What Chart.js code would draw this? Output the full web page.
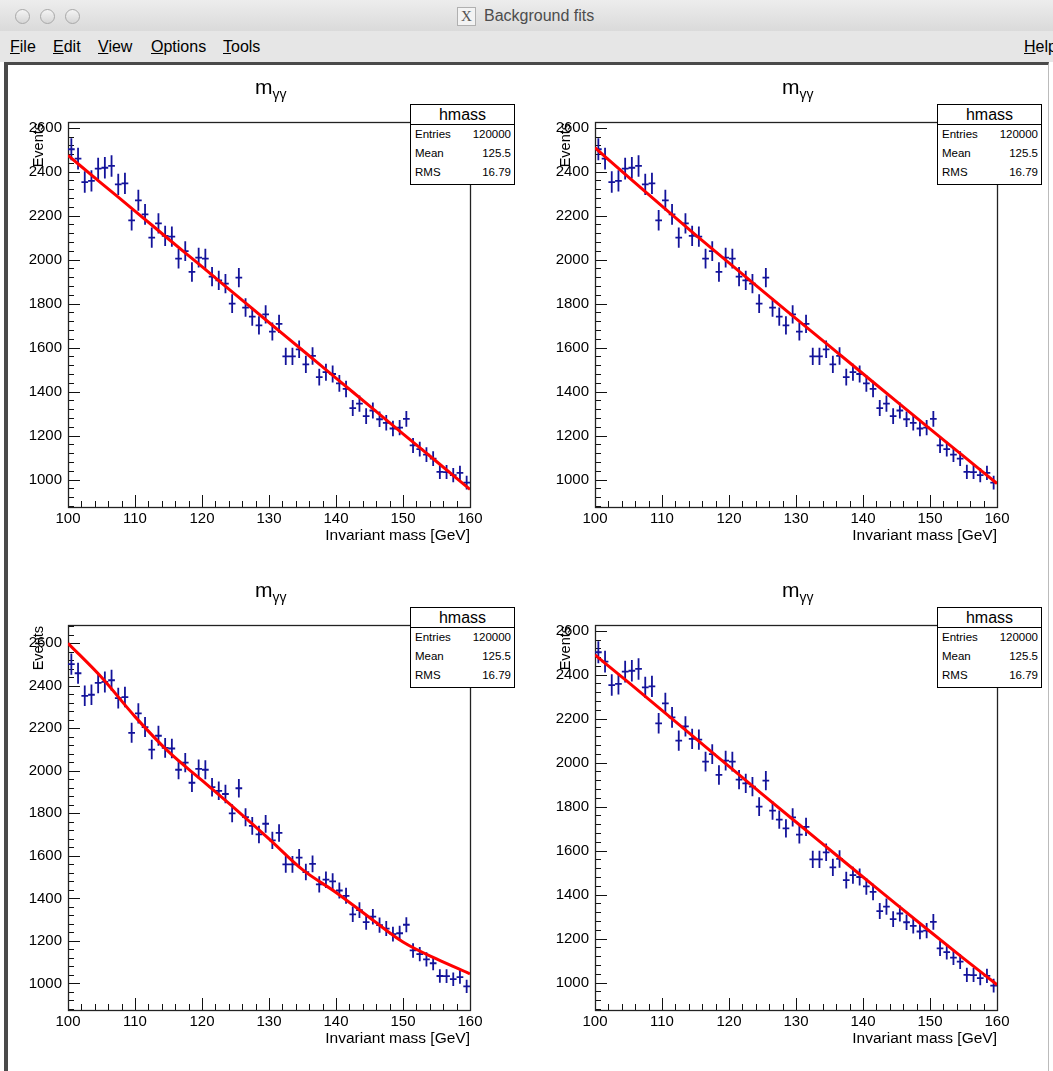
<!DOCTYPE html>
<html><head><meta charset="utf-8">
<script src="https://cdn.jsdelivr.net/npm/chart.js@4.4.1/dist/chart.umd.min.js"></script>
<style>
html,body{margin:0;padding:0;background:#fff;}
body{width:1053px;height:1071px;position:relative;overflow:hidden;font-family:"Liberation Sans",Arial,sans-serif;}
#titlebar{position:absolute;left:0;top:0;width:1053px;height:31px;background:linear-gradient(#ededed,#dadada);}
#menubar{position:absolute;left:0;top:31px;width:1053px;height:31px;background:#e6e6e6;}
.light{position:absolute;top:9px;width:13px;height:13px;border-radius:50%;border:1px solid #a8a8a8;background:linear-gradient(#f4f4f4,#d6d6d6);}
#wtitle{position:absolute;left:484px;top:7px;font-size:16px;color:#4d4d4d;}
#xicon{position:absolute;left:457px;top:7px;width:17px;height:17px;border:1px solid #b0b0b0;background:#f3f3f3;font-family:"Liberation Serif",serif;font-size:15px;line-height:17px;text-align:center;color:#555;}
.menu{position:absolute;top:38px;font-size:16px;color:#000;}
.menu u{text-decoration:underline;}
#canvasframe{position:absolute;left:4px;top:62px;width:1040px;height:1009px;border-left:4px solid #4a4a4a;border-top:3px solid #4a4a4a;border-right:1px solid #bbb;background:#fff;}
canvas{position:absolute;}
.ptitle{position:absolute;font-size:21px;line-height:21px;white-space:nowrap;color:#000;}
.ptitle sub{font-size:14px;vertical-align:-5px;}
.stats{position:absolute;width:103px;height:79px;border:1px solid #000;background:#fff;}
.stats .hd{height:19px;border-bottom:1px solid #000;text-align:center;font-size:16px;line-height:19px;}
.stats .row{position:relative;height:19px;font-size:11.5px;line-height:19px;}
.stats .row .l{position:absolute;left:4px;}
.stats .row .r{position:absolute;right:3px;}
.ytitle{position:absolute;width:60px;text-align:right;font-size:14.5px;line-height:16px;white-space:nowrap;transform-origin:0 0;transform:rotate(-90deg);}
.xtitle{position:absolute;width:220px;text-align:right;font-size:15.5px;line-height:16px;white-space:nowrap;}
</style>
</head><body>
<div id="titlebar">
  <div class="light" style="left:15px"></div>
  <div class="light" style="left:40px"></div>
  <div class="light" style="left:65px"></div>
  <div id="xicon">X</div>
  <div id="wtitle">Background fits</div>
</div>
<div id="menubar"></div>
<div class="menu" style="left:10px"><u>F</u>ile</div>
<div class="menu" style="left:53px"><u>E</u>dit</div>
<div class="menu" style="left:98px"><u>V</u>iew</div>
<div class="menu" style="left:151px"><u>O</u>ptions</div>
<div class="menu" style="left:223px"><u>T</u>ools</div>
<div class="menu" style="left:1024px"><u>H</u>elp</div>
<div id="canvasframe"></div>
<div id="pads"></div>
<script>
// ---------------- data ----------------
const binCenters = [100.5,101.5,102.5,103.5,104.5,105.5,106.5,107.5,108.5,109.5,
  110.5,111.5,112.5,113.5,114.5,115.5,116.5,117.5,118.5,119.5,
  120.5,121.5,122.5,123.5,124.5,125.5,126.5,127.5,128.5,129.5,
  130.5,131.5,132.5,133.5,134.5,135.5,136.5,137.5,138.5,139.5,
  140.5,141.5,142.5,143.5,144.5,145.5,146.5,147.5,148.5,149.5,
  150.5,151.5,152.5,153.5,154.5,155.5,156.5,157.5,158.5,159.5];
const counts = [2502,2459,2353,2358,2414,2418,2426,2342,2347,2179,
  2270,2206,2100,2165,2108,2105,2005,2039,1944,2009,
  2005,1923,1906,1891,1800,1918,1782,1741,1701,1751,
  1673,1708,1560,1560,1592,1524,1562,1466,1488,1480,
  1437,1412,1325,1345,1288,1314,1274,1258,1232,1236,
  1276,1155,1138,1113,1095,1035,1034,1020,1030,986];
const binHalfWidth = 0.5;
const fitMass   = [100,105,110,115,120,125,130,135,140,145,150,155,160];
const fitPad1   = [2474,2347,2221,2094,1968,1841,1714,1588,1461,1335,1208,1082,955];
const fitPad2   = [2509,2375,2243,2113,1985,1858,1732,1607,1481,1355,1230,1106,982];
const fitPad3   = [2600,2440,2255,2090,1955,1820,1680,1535,1428,1310,1195,1115,1045];
const fitPad4   = [2490,2365,2238,2110,1983,1856,1730,1605,1480,1355,1232,1110,990];
const xTickValues = [100,110,120,130,140,150,160];
const yTickValues = [1000,1200,1400,1600,1800,2000,2200,2400,2600];
const xRange = [100,160];
const yRangeStd  = [875,2626];
const yRangeExpo = [875,2686];
const histName = 'hmass';
const statsLabels = ['Entries','Mean','RMS'];
const statsValues = ['120000','125.5','16.79'];
const titleMain = 'm', titleSub = 'γγ';
const xTitle = 'Invariant mass [GeV]';
const yTitle = 'Events';

// ---------------- layout ----------------
const pads = [
  {dx:0,   dy:0,   fit:fitPad1, yr:yRangeStd},
  {dx:527, dy:0,   fit:fitPad2, yr:yRangeStd},
  {dx:0,   dy:503, fit:fitPad3, yr:yRangeExpo},
  {dx:527, dy:503, fit:fitPad4, yr:yRangeStd}
];
const CW = 519, CH = 502;

const rootPlugin = {
  id:'rootFrame',
  beforeDatasetsDraw(chart){
    const ctx = chart.ctx, a = chart.chartArea, x = chart.scales.x, y = chart.scales.y;
    ctx.save();
    ctx.strokeStyle = '#111'; ctx.lineWidth = 1;
    ctx.beginPath();
    for (let v = xRange[0]; v <= xRange[1] + 1e-9; v += 2) {
      const px = Math.round(x.getPixelForValue(v)) + 0.5;
      const len = (Math.round(v) % 10 === 0) ? 12 : 6;
      ctx.moveTo(px, a.bottom); ctx.lineTo(px, a.bottom - len);
    }
    for (let v = Math.ceil(y.min / 40) * 40; v <= y.max; v += 40) {
      const py = Math.round(y.getPixelForValue(v)) + 0.5;
      const len = (v % 200 === 0) ? 12 : 6;
      ctx.moveTo(a.left, py); ctx.lineTo(a.left + len, py);
    }
    ctx.stroke();
    ctx.lineWidth = 1.3; ctx.strokeStyle = '#222';
    ctx.strokeRect(Math.round(a.left) + 0.5, Math.round(a.top) + 0.5, Math.round(a.right - a.left), Math.round(a.bottom - a.top));
    // error bars of the histogram
    const ds = chart.data.datasets[1];
    ctx.strokeStyle = '#13139a'; ctx.lineWidth = 1.8;
    ctx.beginPath();
    ds.data.forEach(p => {
      const px = x.getPixelForValue(p.x);
      const py = y.getPixelForValue(p.y);
      ctx.moveTo(x.getPixelForValue(p.x - binHalfWidth), py);
      ctx.lineTo(x.getPixelForValue(p.x + binHalfWidth), py);
      ctx.moveTo(px, y.getPixelForValue(p.y + p.err));
      ctx.lineTo(px, y.getPixelForValue(p.y - p.err));
    });
    ctx.stroke();
    ctx.restore();
  }
};

const padsDiv = document.getElementById('pads');
pads.forEach((pd, i) => {
  const cv = document.createElement('canvas');
  cv.width = CW; cv.height = CH;
  cv.style.left = (8 + pd.dx) + 'px'; cv.style.top = (66 + pd.dy) + 'px';
  cv.style.width = CW + 'px'; cv.style.height = CH + 'px';
  padsDiv.appendChild(cv);

  const histData = binCenters.map((m, k) => ({x:m, y:counts[k], err:Math.sqrt(counts[k])}));
  const fitData = fitMass.map((m, k) => ({x:m, y:pd.fit[k]}));

  new Chart(cv.getContext('2d'), {
    type:'scatter',
    data:{datasets:[
      {type:'line', data:fitData, borderColor:'#ff0000', borderWidth:3, pointRadius:0, tension:0.4, cubicInterpolationMode:'monotone', fill:false},
      {type:'scatter', data:histData, pointRadius:0, pointHoverRadius:0, showLine:false}
    ]},
    options:{
      responsive:false, animation:false, devicePixelRatio:1,
      layout:{padding:{top:56, right:57, left:0, bottom:0}},
      plugins:{legend:{display:false}, tooltip:{enabled:false}, title:{display:false}},
      events:[],
      scales:{
        x:{type:'linear', min:xRange[0], max:xRange[1],
           afterFit:s=>{s.height = 61;},
           afterBuildTicks:s=>{s.ticks = xTickValues.map(v=>({value:v}));},
           grid:{display:false, drawTicks:false, tickLength:0}, border:{display:false},
           ticks:{padding:3, color:'#000', font:{family:'Liberation Sans', size:15}, maxRotation:0, autoSkip:false,
                  callback:v=>String(v)}},
        y:{type:'linear', min:pd.yr[0], max:pd.yr[1],
           afterFit:s=>{s.width = 60;},
           afterBuildTicks:s=>{s.ticks = yTickValues.map(v=>({value:v}));},
           grid:{display:false, drawTicks:false, tickLength:0}, border:{display:false},
           ticks:{padding:6, color:'#000', font:{family:'Liberation Sans', size:15}, autoSkip:false,
                  callback:v=>String(v)}}
      }
    },
    plugins:[rootPlugin]
  });

  // title
  const t = document.createElement('div');
  t.className = 'ptitle';
  t.innerHTML = titleMain + '<sub>' + titleSub + '</sub>';
  t.style.left = (255 + pd.dx) + 'px'; t.style.top = (76 + pd.dy) + 'px';
  padsDiv.appendChild(t);
  // stats box
  const sb = document.createElement('div');
  sb.className = 'stats';
  sb.style.left = (410 + pd.dx) + 'px'; sb.style.top = (104 + pd.dy) + 'px';
  let html = '<div class="hd">' + histName + '</div>';
  statsLabels.forEach((l, k) => { html += '<div class="row"><span class="l">' + l + '</span><span class="r">' + statsValues[k] + '</span></div>'; });
  sb.innerHTML = html;
  padsDiv.appendChild(sb);
  // axis titles
  const yt = document.createElement('div');
  yt.className = 'ytitle'; yt.textContent = yTitle;
  yt.style.left = (30 + pd.dx) + 'px'; yt.style.top = (123 + 60 + pd.dy) + 'px';
  padsDiv.appendChild(yt);
  const xt = document.createElement('div');
  xt.className = 'xtitle'; xt.textContent = xTitle;
  xt.style.left = (250 + pd.dx) + 'px'; xt.style.top = (527 + pd.dy) + 'px';
  padsDiv.appendChild(xt);
});
</script>
</body></html>
